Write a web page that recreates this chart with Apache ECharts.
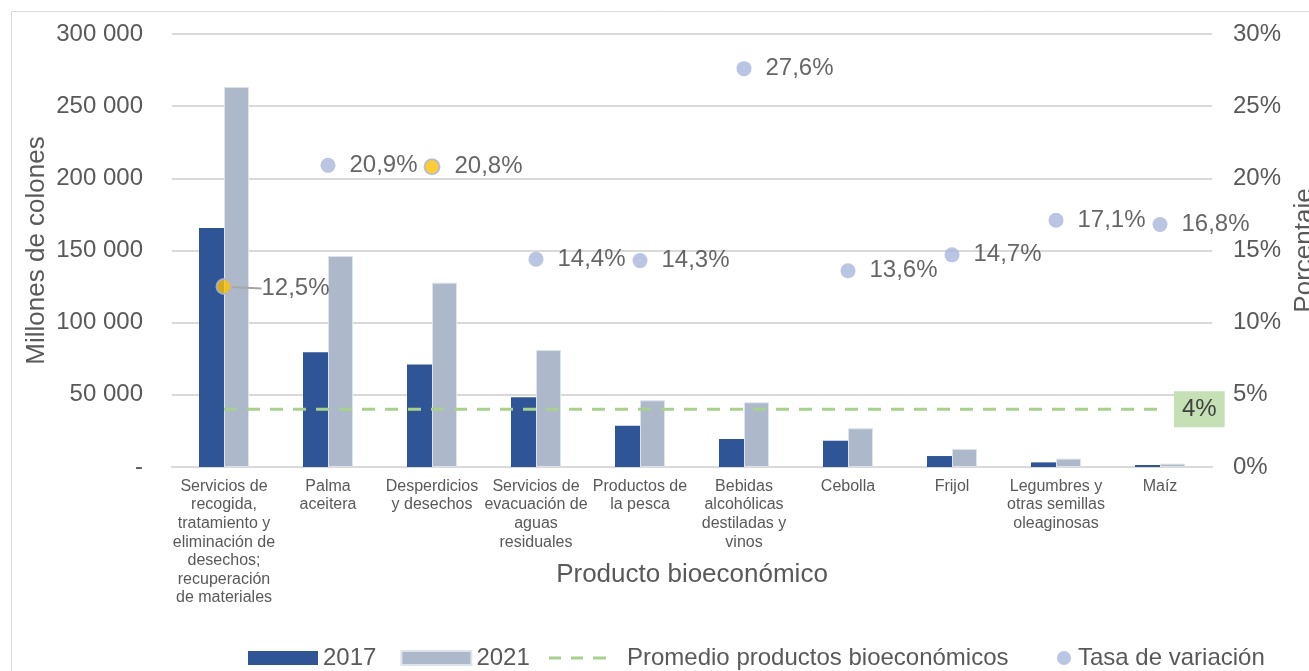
<!DOCTYPE html>
<html>
<head>
<meta charset="utf-8">
<script src="https://cdn.jsdelivr.net/npm/echarts@6/dist/echarts.min.js"></script>
<style>
html,body{margin:0;padding:0;background:#fff;overflow:hidden;}
#chart{width:1309px;height:671px;}
</style>
</head>
<body>
<div id="chart"></div>
<script>
const categories = [
  'Servicios de\nrecogida,\ntratamiento y\neliminación de\ndesechos;\nrecuperación\nde materiales',
  'Palma\naceitera',
  'Desperdicios\ny desechos',
  'Servicios de\nevacuación de\naguas\nresiduales',
  'Productos de\nla pesca',
  'Bebidas\nalcohólicas\ndestiladas y\nvinos',
  'Cebolla',
  'Frijol',
  'Legumbres y\notras semillas\noleaginosas',
  'Maíz'
];
const values2017 = [165600, 79500, 71100, 48300, 28600, 19400, 18200, 7600, 3200, 1400];
const values2021 = [263300, 146200, 127700, 81000, 46200, 44800, 26800, 12500, 5800, 2300];
const averageRate = 4; // %
const variationRate = [12.5, 20.9, 20.8, 14.4, 14.3, 27.6, 13.6, 14.7, 17.1, 16.8]; // %
const highlighted = [0, 2];
const leftTicks = { min: 0, max: 300000, interval: 50000 };
const rightTicks = { min: 0, max: 30, interval: 5 };

const FONT = '"Liberation Sans", Arial, sans-serif';
const chart = echarts.init(document.getElementById('chart'), null, { width: 1309, height: 671 });

function fmtThousands(v) {
  if (v === 0) return '-';
  return String(v).replace(/\B(?=(\d{3})+(?!\d))/g, ' ');
}
function fmtPct(v) { return String(v).replace('.', ',') + '%'; }

const scatterData = variationRate.map((v, i) => {
  const item = { value: v };
  if (highlighted.includes(i)) {
    item.itemStyle = { color: '#FFC000', borderColor: '#A9B5DC', borderWidth: 2 };
  }
  if (i === 0) {
    item.labelLine = { show: true, lineStyle: { color: '#A6A6A6', width: 2 } };
  }
  return item;
});

const dashIcon = 'path://M0,0h12v3h-12z M22,0h12v3h-12z M44,0h13v3h-13z';

chart.setOption({
  animation: false,
  textStyle: { fontFamily: FONT },
  graphic: [{
    type: 'rect', silent: true, z: -10,
    shape: { x: 11.5, y: 11.5, width: 1400, height: 700 },
    style: { fill: 'none', stroke: '#D9D9D9', lineWidth: 1 }
  }],
  grid: { left: 172, right: 97, top: 34, bottom: 204, containLabel: false, outerBoundsMode: 'none' },
  legend: [
    {
      data: ['2017', '2021'],
      left: 248, top: 646, padding: 0,
      itemWidth: 70, itemHeight: 14, itemGap: 24,
      icon: 'rect',
      textStyle: { fontSize: 24, color: '#595959', fontFamily: FONT }
    },
    {
      data: [{ name: 'Promedio productos bioeconómicos', icon: dashIcon }],
      left: 549, top: 646, padding: 0,
      itemWidth: 57, itemHeight: 3,
      textStyle: { fontSize: 24, color: '#595959', fontFamily: FONT, padding: [0, 0, 0, 16] }
    },
    {
      data: ['Tasa de variación'],
      left: 1057, top: 646, padding: 0,
      itemWidth: 14, itemHeight: 14,
      icon: 'circle',
      textStyle: { fontSize: 24, color: '#595959', fontFamily: FONT, padding: [0, 0, 0, 2] }
    }
  ],
  xAxis: {
    type: 'category',
    data: categories,
    name: 'Producto bioeconómico',
    nameLocation: 'middle',
    nameGap: 95,
    nameMoveOverlap: false,
    nameTextStyle: { fontSize: 26, color: '#595959', fontFamily: FONT },
    axisLine: { lineStyle: { color: '#D9D9D9', width: 2 } },
    axisTick: { show: false },
    axisLabel: {
      interval: 0, margin: 10, fontSize: 16, lineHeight: 18.6,
      color: '#595959', fontFamily: FONT, align: 'center'
    }
  },
  yAxis: [
    {
      type: 'value',
      min: leftTicks.min, max: leftTicks.max, interval: leftTicks.interval,
      name: 'Millones de colones',
      nameLocation: 'middle',
      nameGap: 122,
      nameMoveOverlap: false,
      nameTextStyle: { fontSize: 26, color: '#595959', fontFamily: FONT },
      axisLine: { show: false },
      axisTick: { show: false },
      axisLabel: { formatter: fmtThousands, fontSize: 24, color: '#595959', margin: 29, fontFamily: FONT },
      splitLine: { lineStyle: { color: '#D9D9D9', width: 2 } }
    },
    {
      type: 'value',
      min: rightTicks.min, max: rightTicks.max, interval: rightTicks.interval,
      position: 'right',
      name: 'Porcentaje',
      nameLocation: 'middle',
      nameGap: 80,
      nameMoveOverlap: false,
      nameTextStyle: { fontSize: 26, color: '#595959', fontFamily: FONT },
      axisLine: { show: false },
      axisTick: { show: false },
      axisLabel: { formatter: v => v + '%', fontSize: 24, color: '#595959', margin: 21, fontFamily: FONT },
      splitLine: { show: false }
    }
  ],
  series: [
    {
      name: '2017', type: 'bar', data: values2017,
      barWidth: 25, barGap: '0%',
      itemStyle: { color: '#2F5597' }
    },
    {
      name: '2021', type: 'bar', data: values2021,
      barWidth: 25, barGap: '0%',
      itemStyle: { color: '#ADB9CA', borderColor: '#DDE3EB', borderWidth: 1 }
    },
    {
      name: 'Promedio productos bioeconómicos', type: 'line',
      yAxisIndex: 1,
      data: categories.map(() => averageRate),
      symbol: 'none',
      lineStyle: { color: '#A9D18E', width: 3, type: [13, 10] },
      itemStyle: { color: '#A9D18E' },
      endLabel: {
        show: true,
        formatter: () => averageRate + '%',
        distance: 14,
        backgroundColor: '#C5E0B4',
        padding: [6, 8],
        fontSize: 24, lineHeight: 24,
        color: '#404040', fontFamily: FONT
      },
      z: 3
    },
    {
      name: 'Tasa de variación', type: 'scatter',
      yAxisIndex: 1,
      data: scatterData,
      symbolSize: 15,
      itemStyle: { color: '#A9B5DC' },
      label: {
        show: true, position: 'right', distance: 14,
        formatter: p => fmtPct(p.value),
        fontSize: 24, color: '#404040', fontFamily: FONT
      },
      labelLayout: p => (p.dataIndex === 0 ? { dx: 15, dy: 2 } : {}),
      labelLine: { show: false },
      z: 5
    }
  ]
});
</script>
</body>
</html>
